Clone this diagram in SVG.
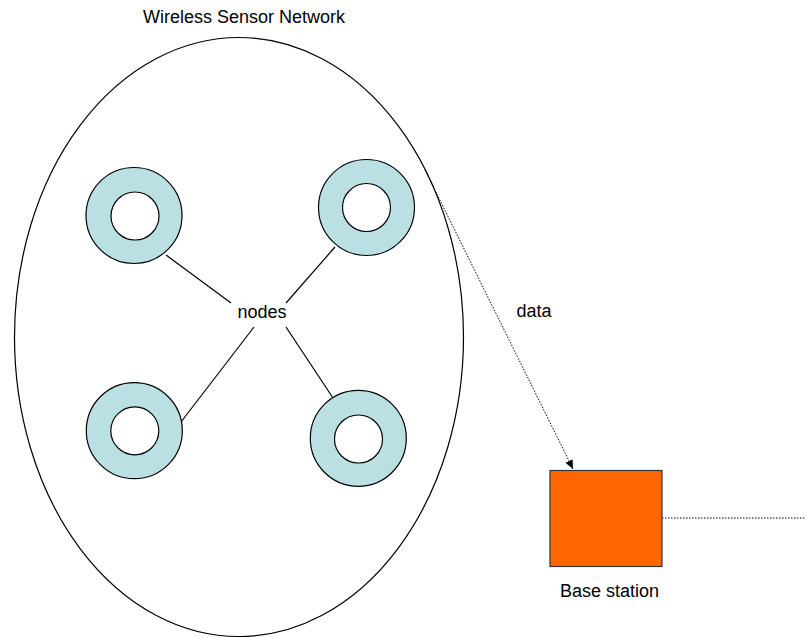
<svg xmlns="http://www.w3.org/2000/svg" width="806" height="638" viewBox="0 0 806 638">
<style>
text{font-family:"Liberation Sans",Arial,sans-serif;font-size:18px;fill:#000}
.ring{fill:#BBE0E3;stroke:#000;stroke-width:1.2}
.hole{fill:#fff;stroke:#000;stroke-width:1.2}
.ln{stroke:#000;stroke-width:1.2;fill:none}
.dot{stroke:#000;stroke-width:1;stroke-dasharray:1.5 1.5;fill:none}
</style>
<defs>
<marker id="ah" markerWidth="10" markerHeight="10" refX="9" refY="5" orient="auto" markerUnits="userSpaceOnUse">
<path d="M0,1 L9,5 L0,9 Z" fill="#000"/>
</marker>
</defs>
<rect width="806" height="638" fill="#fff"/>
<g id="network">
<ellipse cx="239" cy="337" rx="224.5" ry="299.5" fill="none" stroke="#000" stroke-width="1.2"/>
<text x="143" y="23">Wireless Sensor Network</text>
</g>
<g id="connectors">
<line class="ln" x1="166" y1="255" x2="231" y2="303"/>
<line class="ln" x1="335" y1="247" x2="286" y2="303"/>
<line class="ln" x1="254" y1="327" x2="181" y2="422"/>
<line class="ln" x1="286" y1="327" x2="333" y2="398"/>
<line class="dot" x1="425" y1="170" x2="573" y2="469" marker-end="url(#ah)"/>
<line class="dot" x1="662" y1="518" x2="806" y2="518"/>
</g>
<g id="node-tl"><circle class="ring" cx="134" cy="215.5" r="48"/><circle class="hole" cx="135" cy="216" r="24"/></g>
<g id="node-tr"><circle class="ring" cx="366.5" cy="207.5" r="48"/><circle class="hole" cx="366.5" cy="207.5" r="24"/></g>
<g id="node-bl"><circle class="ring" cx="134.3" cy="430.7" r="48"/><circle class="hole" cx="134.8" cy="430.8" r="24"/></g>
<g id="node-br"><circle class="ring" cx="358.3" cy="438.3" r="48"/><circle class="hole" cx="358.5" cy="439" r="24"/></g>
<g id="nodes-label"><text x="237.5" y="318">nodes</text></g>
<g id="data-label"><text x="516.5" y="317">data</text></g>
<g id="base-station">
<rect x="550" y="470.5" width="112" height="96" fill="#FF6600" stroke="#333" stroke-width="1.2"/>
<text x="560" y="597">Base station</text>
</g>
</svg>
